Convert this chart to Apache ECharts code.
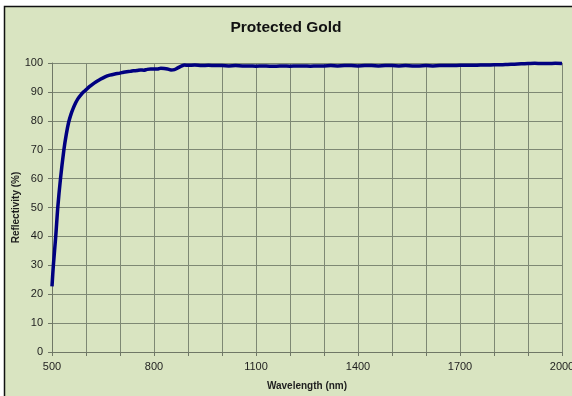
<!DOCTYPE html>
<html>
<head>
<meta charset="utf-8">
<script src="https://cdn.jsdelivr.net/npm/echarts@6/dist/echarts.min.js"></script>
<style>
  html, body { margin: 0; padding: 0; background: #ffffff; }
  #chart { width: 572px; height: 396px; }
</style>
</head>
<body>
<div id="chart"></div>
<script>
// Protected gold mirror coating: reflectivity vs wavelength
const wavelengths = [
  500, 504, 511, 517, 525, 535, 542, 549, 556, 562, 570, 576, 585, 594, 600,
  610, 620, 630, 640, 656, 670, 685, 700, 710, 720, 730, 740, 750, 760, 770, 780,
  790, 800, 810, 820, 830, 840, 850, 860, 870, 880, 890, 900,
  920, 940, 960, 980, 1000, 1020, 1040, 1060, 1080, 1100, 1120, 1140, 1160, 1180, 1200,
  1220, 1240, 1260, 1280, 1300, 1320, 1340, 1360, 1380, 1400, 1420, 1440, 1460, 1480, 1500,
  1520, 1540, 1560, 1580, 1600, 1620, 1640, 1660, 1680, 1700, 1720, 1740, 1760, 1780, 1800,
  1820, 1840, 1860, 1880, 1900, 1920, 1940, 1960, 1980, 2000
];
const reflectivity = [
  22.7, 30, 40, 50, 60, 70, 75.3, 79.5, 82.3, 84.2, 86.3, 87.6, 89.0, 90.1, 90.7,
  91.8, 92.7, 93.5, 94.2, 95.2, 95.8, 96.2, 96.5, 96.8, 97.0, 97.1, 97.3, 97.4, 97.6, 97.5, 97.8,
  97.9, 97.9, 97.9, 98.2, 98.1, 97.9, 97.6, 97.7, 98.3, 98.9, 99.3, 99.2,
  99.3, 99.1, 99.2, 99.1, 99.1, 99.0, 99.1, 99.0, 99.0, 98.9, 99.0, 98.9, 98.9, 99.0, 98.9,
  99.0, 99.0, 98.9, 99.0, 99.0, 99.1, 99.0, 99.1, 99.1, 99.0, 99.1, 99.1, 99.0, 99.1, 99.1,
  99.0, 99.1, 99.0, 99.0, 99.1, 99.0, 99.1, 99.1, 99.1, 99.2, 99.2, 99.2, 99.3, 99.3, 99.4,
  99.4, 99.5, 99.6, 99.7, 99.8, 99.9, 99.8, 99.8, 99.9, 99.8
];
const xLabelStep = 300;

const chart = echarts.init(document.getElementById('chart'), null, { renderer: 'canvas' });
const gridColor = '#7e8874';
const textColor = '#1e1e1e';
const font = 'Liberation Sans, Arial, sans-serif';

chart.setOption({
  backgroundColor: '#ffffff',
  animation: false,
  graphic: [{
    type: 'rect',
    z: -10,
    silent: true,
    shape: { x: 4.5, y: 6.5, width: 600, height: 420 },
    style: { fill: '#d9e4c1', stroke: '#111111', lineWidth: 1.5 }
  }],
  title: {
    text: 'Protected Gold',
    left: 'center',
    top: 15,
    textStyle: { fontFamily: font, fontSize: 15.5, fontWeight: 'bold', color: '#111' }
  },
  grid: { left: 52, right: 10, top: 63, bottom: 44, outerBoundsMode: 'none', containLabel: false },
  xAxis: {
    type: 'value',
    min: 500,
    max: 2000,
    interval: 100,
    name: 'Wavelength (nm)',
    nameLocation: 'middle',
    nameGap: 29,
    nameMoveOverlap: false,
    nameTextStyle: { fontFamily: font, fontSize: 10, fontWeight: 'bold', color: textColor },
    axisLine: { show: true, lineStyle: { color: '#6f7766', width: 1 } },
    axisTick: { show: true, length: 4, lineStyle: { color: '#6f7766' } },
    axisLabel: {
      margin: 9,
      fontFamily: font,
      fontSize: 11,
      color: textColor,
      showMaxLabel: true,
      hideOverlap: false,
      formatter: v => ((v - 500) % xLabelStep === 0 ? String(v) : '')
    },
    splitLine: { show: true, lineStyle: { color: gridColor, width: 1 } }
  },
  yAxis: {
    type: 'value',
    min: 0,
    max: 100,
    interval: 10,
    name: 'Reflectivity (%)',
    nameLocation: 'middle',
    nameGap: 31,
    nameMoveOverlap: false,
    nameTextStyle: { fontFamily: font, fontSize: 10, fontWeight: 'bold', color: textColor },
    axisLine: { show: true, lineStyle: { color: '#6f7766', width: 1 } },
    axisTick: { show: true, length: 4, lineStyle: { color: '#6f7766' } },
    axisLabel: { margin: 9, fontFamily: font, fontSize: 11, color: textColor },
    splitLine: { show: true, lineStyle: { color: gridColor, width: 1 } }
  },
  series: [{
    type: 'line',
    data: wavelengths.map((w, i) => [w, reflectivity[i]]),
    showSymbol: false,
    smooth: 0.3,
    clip: false,
    lineStyle: { color: '#000080', width: 3.5 }
  }]
});
</script>
</body>
</html>
